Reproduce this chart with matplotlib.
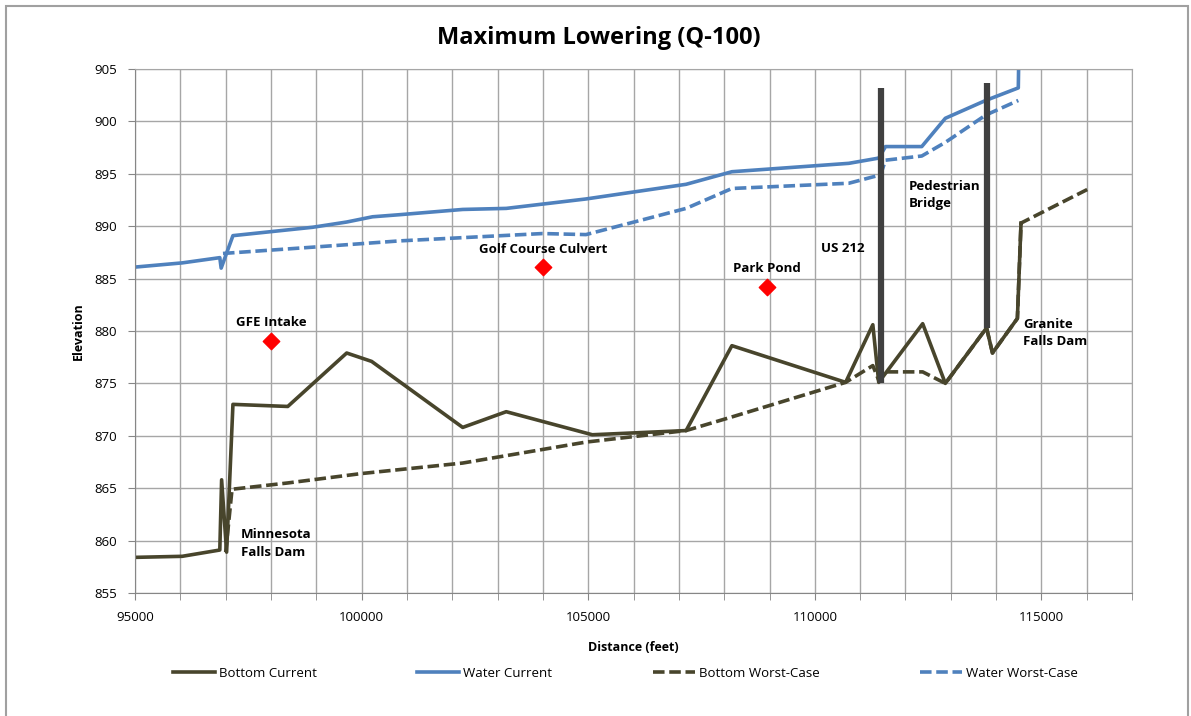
import matplotlib
matplotlib.use("Agg")
import matplotlib.pyplot as plt
from matplotlib.patches import Rectangle
from matplotlib.ticker import MultipleLocator

# Series (distance in feet, elevation in feet)
water_cur_x = [95000, 96040, 96870, 96900, 97160, 98920, 99670, 100240, 100840, 102230,
               103190, 104950, 107160, 108170, 110750, 111410, 111560, 112360, 112880,
               113770, 114490, 114500]
water_cur_y = [886.1, 886.5, 887.0, 886.0, 889.1, 889.9, 890.4, 890.9, 891.1, 891.6,
               891.7, 892.6, 894.0, 895.2, 896.0, 896.5, 897.6, 897.6, 900.3,
               902.0, 903.2, 906.0]

water_wc_x = [96940, 98920, 100840, 103990, 104950, 107160, 108170, 110750, 111450,
              111560, 112360, 112880, 113770, 114490]
water_wc_y = [887.4, 888.0, 888.6, 889.3, 889.2, 891.7, 893.6, 894.1, 894.9,
              896.3, 896.7, 898.0, 900.6, 902.0]

bottom_cur_x = [95000, 96040, 96870, 96910, 97020, 97160, 98370, 99670, 100220, 102230,
                103190, 105090, 107160, 108170, 110680, 111280, 111410, 112380, 112880,
                113790, 113920, 114470, 114550]
bottom_cur_y = [858.4, 858.5, 859.1, 865.8, 858.9, 873.0, 872.8, 877.9, 877.1, 870.8,
                872.3, 870.1, 870.5, 878.6, 875.1, 880.6, 875.1, 880.7, 875.0,
                880.3, 877.9, 881.2, 890.3]

bottom_wc_x = [97000, 97140, 98370, 100000, 102230, 104950, 107160, 108170, 110680,
               111280, 111410, 111560, 112380, 112880, 113790, 113920, 114470, 114550,
               116010]
bottom_wc_y = [858.9, 864.9, 865.5, 866.4, 867.4, 869.4, 870.5, 871.8, 875.1,
               876.7, 875.3, 876.1, 876.1, 875.0, 880.3, 877.9, 881.2, 890.3,
               893.5]

# Bridge piers (vertical bars)
bridge_x = [111450, 113810]
bridge_top = [903.2, 903.7]
bridge_bottom = [875.0, 880.3]

# Point features
point_names = ["GFE Intake", "Golf Course Culvert", "Park Pond"]
point_x = [98000, 104010, 108940]
point_y = [879.0, 886.1, 884.2]

BOTTOM_COLOR = "#48452c"
WATER_COLOR = "#4f81bd"
GRID_COLOR = "#a6a6a6"
LW = 2.6
DASH = (0, (3.2, 1.3))

plt.rcParams["font.family"] = ["Open Sans", "DejaVu Sans"]

fig = plt.figure(figsize=(11.91, 7.16), dpi=100)
ax = fig.add_axes([0.1134, 0.1718, 0.8371, 0.7318])

# outer chart border
fig.patches.append(Rectangle((6 / 1191, -0.02), 1182 / 1191, 1 - 6 / 716 + 0.02,
                             transform=fig.transFigure, fill=False,
                             edgecolor="#a0a0a0", linewidth=1.5))

ax.plot(bottom_cur_x, bottom_cur_y, color=BOTTOM_COLOR, lw=LW, label="Bottom Current")
ax.plot(water_cur_x, water_cur_y, color=WATER_COLOR, lw=LW, label="Water Current")
ax.plot(bottom_wc_x, bottom_wc_y, color=BOTTOM_COLOR, lw=LW, ls=DASH,
        label="Bottom Worst-Case")
ax.plot(water_wc_x, water_wc_y, color=WATER_COLOR, lw=LW, ls=DASH,
        label="Water Worst-Case")

for bx, bt, bb in zip(bridge_x, bridge_top, bridge_bottom):
    ax.plot([bx, bx], [bb, bt], color="#404040", lw=4.5, solid_capstyle="butt")

ax.scatter(point_x, point_y, marker="D", s=70, color="#ff0000", zorder=5)

lab = dict(fontsize=9.5, fontweight="bold", color="black")
ax.text(98000, 880.2, "GFE Intake", ha="center", va="bottom", **lab)
ax.text(104010, 887.2, "Golf Course Culvert", ha="center", va="bottom", **lab)
ax.text(108940, 885.3, "Park Pond", ha="center", va="bottom", **lab)
ax.text(111100, 887.9, "US 212", ha="right", va="center", **lab)
ax.text(112070, 893.0, "Pedestrian\nBridge", ha="left", va="center", linespacing=1.45, **lab)
ax.text(114600, 879.8, "Granite\nFalls Dam", ha="left", va="center", linespacing=1.45, **lab)
ax.text(97330, 859.7, "Minnesota\nFalls Dam", ha="left", va="center", linespacing=1.45, **lab)

ax.set_xlim(95000, 117000)
ax.set_ylim(855, 905)
ax.xaxis.set_major_locator(MultipleLocator(5000))
ax.xaxis.set_minor_locator(MultipleLocator(1000))
ax.yaxis.set_major_locator(MultipleLocator(5))
ax.grid(True, which="both", axis="x", color=GRID_COLOR, lw=1)
ax.grid(True, which="major", axis="y", color=GRID_COLOR, lw=1)
ax.set_axisbelow(True)
for side in ["top", "right"]:
    ax.spines[side].set_color(GRID_COLOR)
for side in ["left", "bottom"]:
    ax.spines[side].set_color("#868686")
ax.tick_params(axis="both", which="both", color="#868686", labelsize=9.5)
ax.tick_params(axis="both", which="major", length=5, pad=8)
ax.tick_params(axis="x", which="minor", length=5)

ax.set_xlabel("Distance (feet)", fontsize=9, fontweight="bold", labelpad=12)
ax.set_ylabel("Elevation", fontsize=9, fontweight="bold", labelpad=7)
fig.text(0.503, 0.947, "Maximum Lowering (Q-100)", ha="center", va="center",
         fontsize=17, fontweight="bold")

fig.legend(loc="center", bbox_to_anchor=(0.525, 0.06), ncol=4, frameon=False,
           fontsize=9.5, handlelength=3.2, handletextpad=0.3, columnspacing=7.6)

fig.savefig("out.png", dpi=100)
